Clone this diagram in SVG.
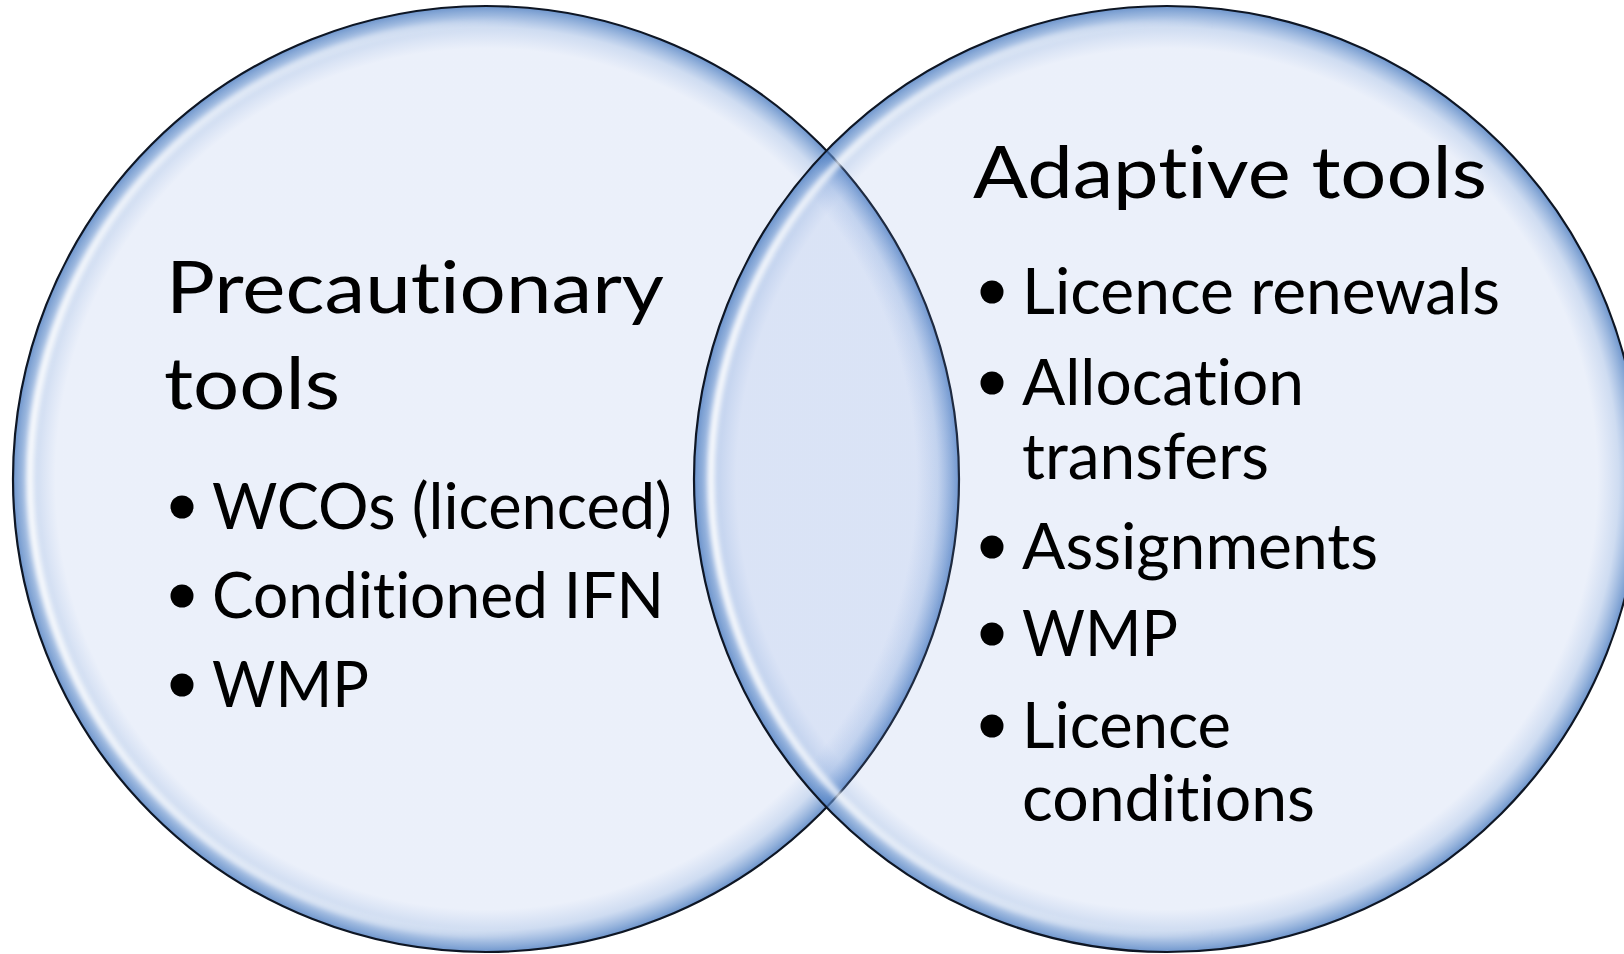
<svg xmlns="http://www.w3.org/2000/svg" width="1624" height="954" viewBox="0 0 1624 954">
  <defs>
    <radialGradient id="rim" cx="50%" cy="50%" r="50%">
      <stop offset="0" stop-color="#7A9BDE" stop-opacity="0.15"/>
      <stop offset="0.91" stop-color="#7A9BDE" stop-opacity="0.15"/>
      <stop offset="0.955" stop-color="#7098D6" stop-opacity="0.34"/>
      <stop offset="0.985" stop-color="#5A88C8" stop-opacity="0.66"/>
      <stop offset="1" stop-color="#4A7BC0" stop-opacity="0.8"/>
    </radialGradient>
    <linearGradient id="hl" x1="0" y1="0" x2="1" y2="0">
      <stop offset="0" stop-color="#ffffff" stop-opacity="0.95"/>
      <stop offset="0.35" stop-color="#ffffff" stop-opacity="0.4"/>
      <stop offset="0.55" stop-color="#ffffff" stop-opacity="0"/>
    </linearGradient>
    <filter id="soft" x="-5%" y="-5%" width="110%" height="110%">
      <feGaussianBlur stdDeviation="2.5"/>
    </filter>
    <style>
      .disc { fill: url(#rim); stroke: #0e1624; stroke-width: 2.2; }
      .shine { fill: none; stroke: url(#hl); stroke-width: 7; filter: url(#soft); }
      .title { font-family: "Lato", "Liberation Sans", sans-serif; font-size: 72px; fill: #000; font-variant-ligatures: none; }
      .item { font-family: "Lato", "Liberation Sans", sans-serif; font-size: 64px; fill: #000; font-variant-ligatures: none; }
      .dot { fill: #000; }
    </style>
  </defs>
  <rect x="0" y="0" width="1624" height="954" fill="#ffffff"/>

  <g id="precautionary">
    <circle class="disc" cx="486" cy="479" r="473"/>
    <circle class="shine" cx="486" cy="479" r="456"/>
    <text class="title" x="166" y="313" textLength="498" lengthAdjust="spacingAndGlyphs">Precautionary</text>
    <text class="title" x="164" y="409" textLength="176" lengthAdjust="spacingAndGlyphs">tools</text>
    <circle class="dot" cx="182" cy="507" r="11.5"/>
    <text class="item" x="212" y="529" textLength="460" lengthAdjust="spacingAndGlyphs">WCOs (licenced)</text>
    <circle class="dot" cx="182" cy="596" r="11.5"/>
    <text class="item" x="212" y="618" textLength="452" lengthAdjust="spacingAndGlyphs">Conditioned IFN</text>
    <circle class="dot" cx="182" cy="685" r="11.5"/>
    <text class="item" x="212" y="707" textLength="157" lengthAdjust="spacingAndGlyphs">WMP</text>
  </g>

  <g id="adaptive">
    <circle class="disc" cx="1167" cy="479" r="473"/>
    <circle class="shine" cx="1167" cy="479" r="456"/>
    <text class="title" x="973" y="198" textLength="514" lengthAdjust="spacingAndGlyphs">Adaptive tools</text>
    <circle class="dot" cx="992" cy="292" r="11.5"/>
    <text class="item" x="1022" y="314" textLength="478" lengthAdjust="spacingAndGlyphs">Licence renewals</text>
    <circle class="dot" cx="992" cy="383" r="11.5"/>
    <text class="item" x="1022" y="405" textLength="282" lengthAdjust="spacingAndGlyphs">Allocation</text>
    <text class="item" x="1022" y="479" textLength="247" lengthAdjust="spacingAndGlyphs">transfers</text>
    <circle class="dot" cx="992" cy="547" r="11.5"/>
    <text class="item" x="1022" y="569" textLength="356" lengthAdjust="spacingAndGlyphs">Assignments</text>
    <circle class="dot" cx="992" cy="634" r="11.5"/>
    <text class="item" x="1022" y="656" textLength="156" lengthAdjust="spacingAndGlyphs">WMP</text>
    <circle class="dot" cx="992" cy="726" r="11.5"/>
    <text class="item" x="1022" y="748" textLength="209" lengthAdjust="spacingAndGlyphs">Licence</text>
    <text class="item" x="1022" y="821" textLength="293" lengthAdjust="spacingAndGlyphs">conditions</text>
  </g>

  <g id="connectors"/>
</svg>
